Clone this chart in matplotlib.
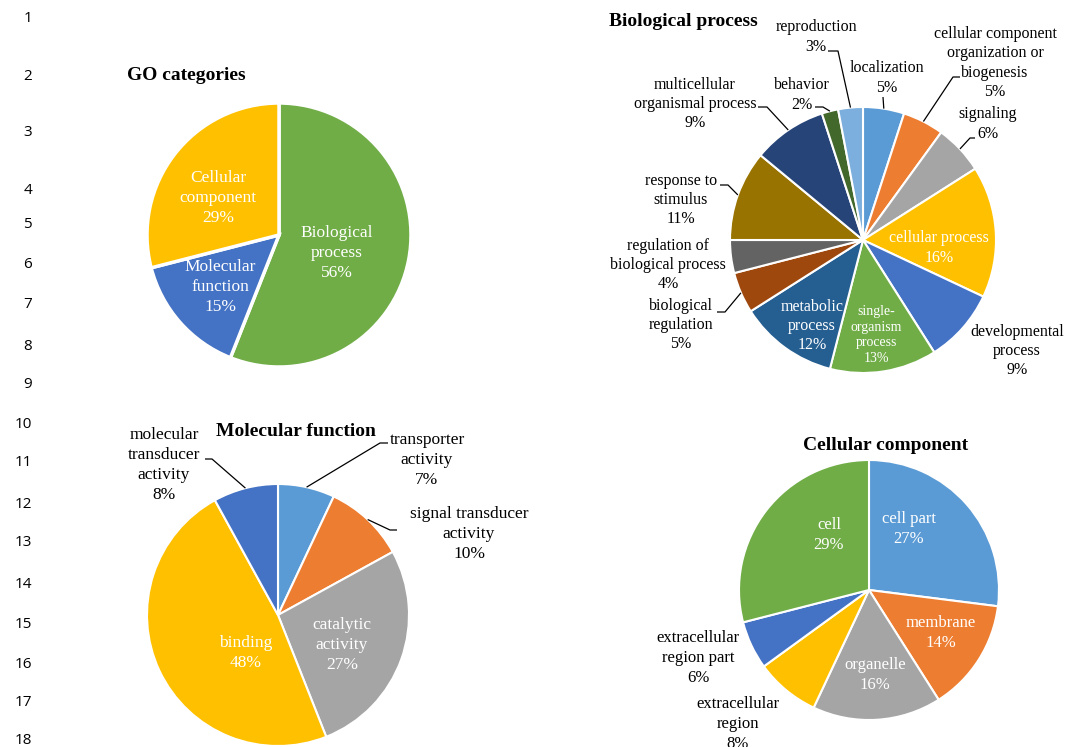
import matplotlib
matplotlib.use('Agg')
import matplotlib.pyplot as plt
import numpy as np

W, H = 1077, 747

# GO overview
go_labels = ['Biological\nprocess', 'Molecular\nfunction', 'Cellular\ncomponent']
go_values = [56, 15, 29]
go_colors = ['#70AD47', '#4472C4', '#FFC000']

# Biological process
bp_labels = ['localization', 'cellular component\norganization or\nbiogenesis', 'signaling',
             'cellular process', 'developmental\nprocess', 'single-\norganism\nprocess',
             'metabolic\nprocess', 'biological\nregulation', 'regulation of\nbiological process',
             'response to\nstimulus', 'multicellular\norganismal process', 'behavior', 'reproduction']
bp_values = [5, 5, 6, 16, 9, 13, 12, 5, 4, 11, 9, 2, 3]
bp_colors = ['#5B9BD5', '#ED7D31', '#A5A5A5', '#FFC000', '#4472C4', '#70AD47', '#255E91',
             '#9E480E', '#636363', '#997300', '#264478', '#43682B', '#7CAFDD']

# Molecular function
mf_labels = ['transporter\nactivity', 'signal transducer\nactivity', 'catalytic\nactivity',
             'binding', 'molecular\ntransducer\nactivity']
mf_values = [7, 10, 27, 48, 8]
mf_colors = ['#5B9BD5', '#ED7D31', '#A5A5A5', '#FFC000', '#4472C4']

# Cellular component
cc_labels = ['cell part', 'membrane', 'organelle', 'extracellular\nregion',
             'extracellular\nregion part', 'cell']
cc_values = [27, 14, 16, 8, 6, 29]
cc_colors = ['#5B9BD5', '#ED7D31', '#A5A5A5', '#FFC000', '#4472C4', '#70AD47']

row_numbers = list(range(1, 19))

SERIF = ['Liberation Serif', 'DejaVu Serif']

fig = plt.figure(figsize=(W / 100, H / 100), dpi=100)
ax = fig.add_axes([0, 0, 1, 1])


def draw_pie(values, colors, cx, cy, r, lw):
    wedges, _ = ax.pie(values, colors=colors, startangle=90, counterclock=False,
                       center=(cx, H - cy), radius=r,
                       wedgeprops=dict(edgecolor='white', linewidth=lw))
    return wedges


def edge_point(w):
    a = np.deg2rad((w.theta1 + w.theta2) / 2)
    return w.center[0] + w.r * np.cos(a), w.center[1] + w.r * np.sin(a)


def put_labels(wedges, labels, values, pos, inside, size, spacing,
               leaders=None, small=None):
    leaders = leaders or {}
    small = small or {}
    for i, w in enumerate(wedges):
        x, y = pos[i]
        fs = small.get(i, size)
        ax.text(x, H - y, f'{labels[i]}\n{values[i]}%', ha='center', va='center',
                multialignment='center', fontsize=fs, family=SERIF, linespacing=spacing,
                color='white' if inside[i] else 'black')
        if i in leaders:
            ex, ey = edge_point(w)
            pts = leaders[i]
            xs = [p[0] for p in pts] + [ex]
            ys = [H - p[1] for p in pts] + [ey]
            ax.plot(xs, ys, color='black', lw=0.9, solid_capstyle='butt')


# GO categories
go_w = draw_pie(go_values, go_colors, 279, 235, 132, 2.5)
put_labels(go_w, go_labels, go_values, [(337, 253), (220, 287), (218, 198)],
           [True, True, True], 12.5, 1.32)
ax.text(127, H - 75, 'GO categories', fontsize=14, fontweight='bold', family=SERIF,
        ha='left', va='center')

# Biological process
bp_w = draw_pie(bp_values, bp_colors, 863, 240, 133, 1.5)
bp_pos = [(887, 78), (995, 63), (988, 124), (939, 248), (1017, 351), (876, 335),
          (812, 326), (681, 325), (668, 265), (681, 200), (695, 104), (802, 95), (816, 37)]
bp_inside = [False, False, False, True, False, True, True, False, False, False, False,
             False, False]
bp_leaders = {0: [(883, 97)], 1: [(960, 77), (953, 77)], 2: [(975, 138), (970, 138)],
              7: [(717, 312), (725, 312)], 9: [(720, 185), (728, 185)],
              10: [(758, 107), (767, 107)], 11: [(815, 107), (823, 107)],
              12: [(828, 51), (838, 51)]}
put_labels(bp_w, bp_labels, bp_values, bp_pos, bp_inside, 11.5, 1.29, bp_leaders, {5: 10})
ax.text(609, H - 22, 'Biological process', fontsize=14, fontweight='bold', family=SERIF,
        ha='left', va='center')

# Molecular function
mf_w = draw_pie(mf_values, mf_colors, 278, 615, 131, 1.5)
mf_pos = [(427, 460), (469, 534), (342, 645), (246, 653), (164, 465)]
mf_inside = [False, False, True, True, False]
mf_leaders = {0: [(388, 443), (380, 443)], 1: [(397, 530), (390, 530)],
              4: [(205, 459), (212, 459)]}
put_labels(mf_w, mf_labels, mf_values, mf_pos, mf_inside, 12.5, 1.32, mf_leaders)
ax.text(296, H - 432, 'Molecular function', fontsize=14, fontweight='bold', family=SERIF,
        ha='center', va='center')

# Cellular component
cc_w = draw_pie(cc_values, cc_colors, 869, 590, 130, 1.5)
cc_pos = [(909, 529), (941, 633), (875, 675), (738, 724), (698, 658), (829, 535)]
cc_inside = [True, True, True, False, False, True]
put_labels(cc_w, cc_labels, cc_values, cc_pos, cc_inside, 12, 1.37)
ax.text(886, H - 445, 'Cellular component', fontsize=14, fontweight='bold', family=SERIF,
        ha='center', va='center')

# spreadsheet row headers
row_y = [18, 77, 133, 190, 225, 265, 305, 346, 385, 425, 463, 504, 543, 585, 625, 664,
         703, 740]
for n, y in zip(row_numbers, row_y):
    ax.text(32, H - y, str(n), fontsize=11, family=['Open Sans', 'DejaVu Sans'],
            ha='right', va='center', color='black')

ax.set_xlim(0, W)
ax.set_ylim(0, H)
ax.set_aspect('auto')
ax.axis('off')

fig.savefig('out.png', dpi=100)
